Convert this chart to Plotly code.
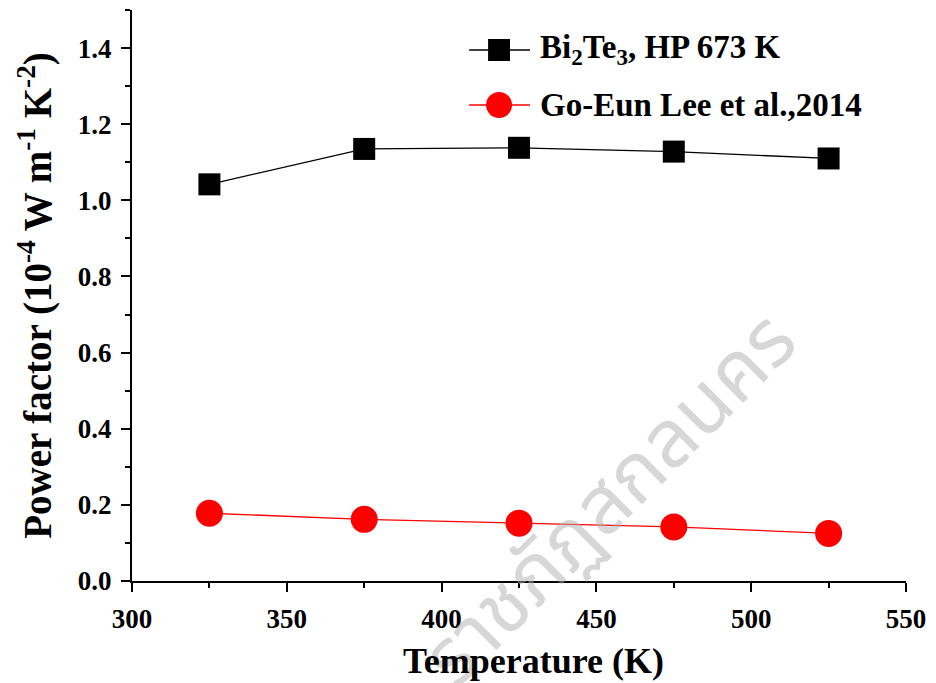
import plotly.graph_objects as go

temps = [325, 375, 425, 475, 525]
pf_bi2te3 = [1.042, 1.135, 1.138, 1.128, 1.110]
pf_lee = [0.178, 0.162, 0.152, 0.142, 0.125]
name_bi2te3 = "Bi<sub>2</sub>Te<sub>3</sub>, HP 673 K"
name_lee = "Go-Eun Lee et al.,2014"
x_title = "Temperature (K)"
y_title = "Power factor (10<sup>-4</sup> W m<sup>-1</sup> K<sup>-2</sup>)"
watermark = "ราชภัฏสกลนคร"

font = "Liberation Serif"
colors = ["black", "red"]
symbols = ["square", "circle"]

W, H = 936, 683
ML, MR, MT, MB = 132, 28, 10, 102
PW, PH = W - ML - MR, H - MT - MB


def px(xpix):
    return (xpix - ML) / PW


def py(ypix):
    return (H - MB - ypix) / PH


fig = go.Figure()
fig.add_trace(go.Scatter(x=temps, y=pf_bi2te3, name=name_bi2te3, mode="lines+markers",
                         line=dict(color=colors[0], width=1.3), showlegend=False,
                         marker=dict(symbol=symbols[0], size=22, color=colors[0])))
fig.add_trace(go.Scatter(x=temps, y=pf_lee, name=name_lee, mode="lines+markers",
                         line=dict(color=colors[1], width=1.3), showlegend=False,
                         marker=dict(symbol=symbols[1], size=27, color=colors[1])))

# watermark (light grey, translucent so marks and labels stay visible)
fig.add_annotation(text=watermark, x=px(612), y=py(500), xref="paper", yref="paper",
                   xanchor="center", yanchor="middle",
                   showarrow=False, textangle=-45,
                   font=dict(family="Noto Sans Thai, Noto Sans, sans-serif", size=80,
                             color="rgba(175,175,175,0.5)"))

# legend drawn manually (larger symbols than plotly's legend allows)
legend_rows = [(name_bi2te3, 50, 22), (name_lee, 105, 26)]
for i, (label, ycen, msize) in enumerate(legend_rows):
    fig.add_shape(type="line", xref="paper", yref="paper", x0=px(470), x1=px(531),
                  y0=py(ycen), y1=py(ycen), line=dict(color=colors[i], width=1.5))
    half = msize / 2
    fig.add_shape(type="rect" if symbols[i] == "square" else "circle", xref="paper", yref="paper",
                  x0=px(500 - half), x1=px(500 + half), y0=py(ycen + half), y1=py(ycen - half),
                  fillcolor=colors[i], line=dict(color=colors[i], width=0))
    fig.add_annotation(text=label, x=px(539), y=py(ycen), xref="paper", yref="paper",
                       xanchor="left", yanchor="middle", showarrow=False,
                       font=dict(family=font, size=33, color="black", weight="bold"))

# x-axis title as annotation (centred slightly right of the axis middle, as in the reference)
fig.add_annotation(text=x_title, x=px(535), y=py(661), xref="paper", yref="paper",
                   xanchor="center", yanchor="middle", showarrow=False,
                   font=dict(family=font, size=36, color="black", weight="bold"))

axis_common = dict(showline=True, linecolor="black", linewidth=2, ticks="outside",
                   ticklen=9, tickwidth=2, tickcolor="black", showgrid=False, zeroline=False,
                   ticklabelstandoff=4,
                   tickfont=dict(family=font, size=27, color="black", weight="bold"))

fig.update_xaxes(range=[300, 550], dtick=50, tick0=300,
                 minor=dict(dtick=25, ticklen=5, tickwidth=2, tickcolor="black", ticks="outside"),
                 **axis_common)
fig.update_yaxes(range=[0, 1.5], dtick=0.2, tick0=0, tickformat=".1f",
                 minor=dict(dtick=0.1, ticklen=5, tickwidth=2, tickcolor="black", ticks="outside"),
                 title=dict(text=y_title, font=dict(family=font, size=39, color="black", weight="bold"), standoff=14),
                 **axis_common)

fig.update_layout(
    width=W, height=H,
    margin=dict(l=ML, r=MR, t=MT, b=MB),
    plot_bgcolor="white", paper_bgcolor="white",
    font=dict(family=font, color="black"),
    showlegend=False,
)

fig.write_html("out.html")
